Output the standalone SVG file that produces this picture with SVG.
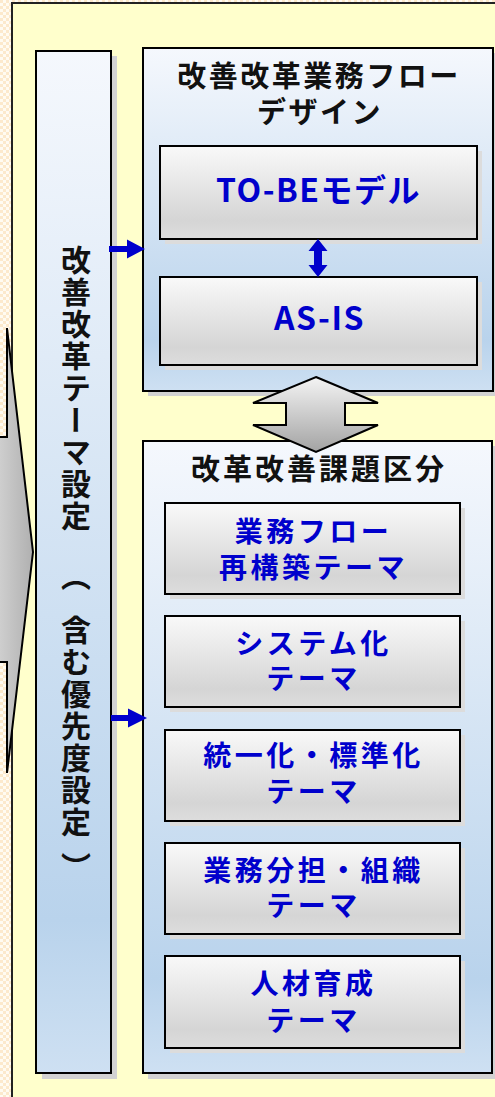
<svg xmlns="http://www.w3.org/2000/svg" width="495" height="1097" viewBox="0 0 495 1097">
<defs>
  <pattern id="chk" width="6" height="6" patternUnits="userSpaceOnUse">
    <rect width="6" height="6" fill="#FFFBF2"/>
    <rect width="3" height="3" fill="#FCE9CC"/>
    <rect x="3" y="3" width="3" height="3" fill="#FCE9CC"/>
  </pattern>
  <linearGradient id="gBlue" x1="0" y1="0" x2="0" y2="1">
    <stop offset="0" stop-color="#F5F8FD"/>
    <stop offset="0.85" stop-color="#B9D3EC"/>
    <stop offset="1" stop-color="#CEE0F2"/>
  </linearGradient>
  <linearGradient id="gGrey" x1="0" y1="0" x2="0" y2="1">
    <stop offset="0" stop-color="#F9F9F9"/>
    <stop offset="0.8" stop-color="#D5D5D5"/>
    <stop offset="1" stop-color="#DDDDDD"/>
  </linearGradient>
  <linearGradient id="gArrowV" x1="0" y1="0" x2="0" y2="1">
    <stop offset="0" stop-color="#F4F4F4"/>
    <stop offset="1" stop-color="#A3A3A3"/>
  </linearGradient>
  <linearGradient id="gArrowH" gradientUnits="userSpaceOnUse" x1="-40" y1="0" x2="33" y2="0">
    <stop offset="0" stop-color="#F2F2F2"/>
    <stop offset="1" stop-color="#B0B0B0"/>
  </linearGradient>
  <style>
    .frame{stroke:#000;stroke-width:2}
    .shadow{fill:#D2D2D2}
    .ishadow{fill:#DCDCDC}
    .blk{stroke:#000;stroke-width:2}
    .ttl{font-family:"Noto Sans CJK JP",sans-serif;font-weight:bold;font-size:29px;fill:#111;text-anchor:middle;letter-spacing:2.5px}
    .blue{font-family:"Noto Sans CJK JP",sans-serif;font-weight:bold;fill:#0000CC;text-anchor:middle}
    .th{font-size:28px;letter-spacing:3.5px}
    .big{font-size:32px;letter-spacing:1.5px}
    .vt{font-family:"Noto Sans CJK JP",sans-serif;font-weight:bold;font-size:30px;letter-spacing:2px;fill:#111;writing-mode:vertical-rl}
    .conn{fill:#0000CC}
  </style>
</defs>

<rect x="0" y="0" width="495" height="1097" fill="url(#chk)"/>
<rect id="panel" x="12" y="3" width="500" height="1110" fill="#FFFFCC" stroke="#222" stroke-width="2"/>

<g id="input-arrow">
  <path d="M-20,437 H7 V328 L33,552 L7,773 V662 H-20 Z" fill="url(#gArrowH)" stroke="#000" stroke-width="2"/>
</g>

<g id="theme-setting">
  <rect class="shadow" x="42" y="56" width="75" height="1023"/>
  <rect class="frame" x="36" y="51" width="75" height="1022" fill="url(#gBlue)"/>
  <text class="vt" x="76" y="245">改善改革テーマ設定</text>
  <text class="vt" x="76" y="561">（</text>
  <text class="vt" x="76" y="615">含む優先度設定</text>
  <text class="vt" x="76" y="852">）</text>
</g>

<g id="flow-design">
  <rect class="shadow" x="148" y="53" width="350" height="343"/>
  <rect class="frame" x="143" y="48" width="350" height="343" fill="url(#gBlue)"/>
  <text class="ttl" x="319" y="87">改善改革業務フロー</text>
  <text class="ttl" x="320" y="123">デザイン</text>
</g>

<g id="to-be">
  <rect class="ishadow" x="165" y="151" width="317" height="93"/>
  <rect class="blk" x="160" y="146" width="317" height="93" fill="url(#gGrey)"/>
  <text class="blue big" x="318.5" y="202">TO-BEモデル</text>
</g>

<g id="as-is">
  <rect class="ishadow" x="165" y="282" width="317" height="88"/>
  <rect class="blk" x="160" y="277" width="317" height="88" fill="url(#gGrey)"/>
  <text class="blue big" x="319.5" y="330">AS-IS</text>
</g>

<g id="issue-categories">
  <rect class="shadow" x="148" y="446" width="349" height="633"/>
  <rect class="frame" x="143" y="441" width="349" height="632" fill="url(#gBlue)"/>
  <text class="ttl" x="319" y="480" style="letter-spacing:3px">改革改善課題区分</text>
</g>

<g id="theme-flow">
  <rect class="ishadow" x="170" y="508" width="295" height="91"/>
  <rect class="blk" x="165" y="503" width="295" height="91" fill="url(#gGrey)"/>
  <text class="blue th" x="313.5" y="542">業務フロー</text>
  <text class="blue th" x="313.5" y="578">再構築テーマ</text>
</g>

<g id="theme-system">
  <rect class="ishadow" x="170" y="621" width="295" height="91"/>
  <rect class="blk" x="165" y="616" width="295" height="91" fill="url(#gGrey)"/>
  <text class="blue th" x="313.5" y="654">システム化</text>
  <text class="blue th" x="313.5" y="689">テーマ</text>
</g>

<g id="theme-standard">
  <rect class="ishadow" x="170" y="735" width="295" height="91"/>
  <rect class="blk" x="165" y="730" width="295" height="91" fill="url(#gGrey)"/>
  <text class="blue th" x="313.5" y="766">統一化・標準化</text>
  <text class="blue th" x="313.5" y="802">テーマ</text>
</g>

<g id="theme-org">
  <rect class="ishadow" x="170" y="848" width="295" height="91"/>
  <rect class="blk" x="165" y="843" width="295" height="91" fill="url(#gGrey)"/>
  <text class="blue th" x="313.5" y="881">業務分担・組織</text>
  <text class="blue th" x="313.5" y="916">テーマ</text>
</g>

<g id="theme-hr">
  <rect class="ishadow" x="170" y="961" width="295" height="92"/>
  <rect class="blk" x="165" y="956" width="295" height="92" fill="url(#gGrey)"/>
  <text class="blue th" x="313.5" y="994">人材育成</text>
  <text class="blue th" x="313.5" y="1031">テーマ</text>
</g>

<g id="connectors">
  <path class="conn" d="M109,246 H127 V239.5 L145,249 L127,258.5 V252 H109 Z"/>
  <path class="conn" d="M111,715 H128 V708.5 L147,718 L128,727.5 V721 H111 Z"/>
  <path class="conn" d="M318,239 L327.5,251 H322 V265 H327.5 L318,277 L308.5,265 H314 V251 H308.5 Z"/>
  <path d="M316,377 L378,403 H345 V425 H378 L316,452 L253,425 H286 V403 H253 Z" fill="url(#gArrowV)" stroke="#000" stroke-width="2" stroke-linejoin="miter"/>
</g>
</svg>
